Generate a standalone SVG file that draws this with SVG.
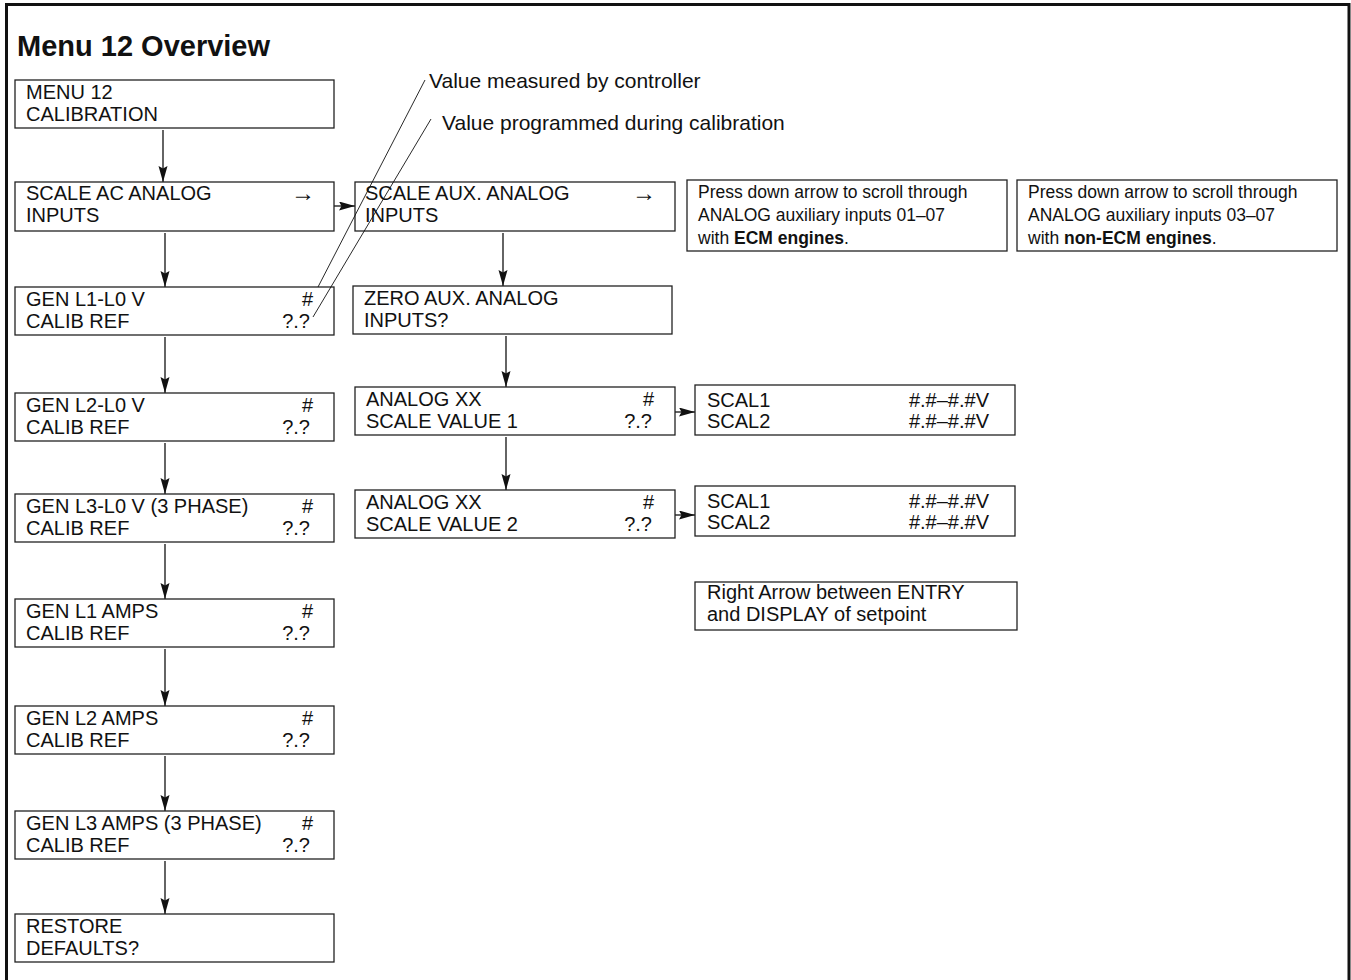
<svg xmlns="http://www.w3.org/2000/svg" width="1351" height="980" viewBox="0 0 1351 980">
<style>
.bx{fill:#fff;stroke:#222;stroke-width:1.3}
.t{font-family:"Liberation Sans",Arial,sans-serif;font-size:20px;fill:#111}
.r{text-anchor:end}
.ar{font-family:"Liberation Sans",Arial,sans-serif;font-size:24px;fill:#111}
.n{font-family:"Liberation Sans",Arial,sans-serif;font-size:17.5px;fill:#111}
.lb{font-family:"Liberation Sans",Arial,sans-serif;font-size:21px;fill:#111}
.ln{stroke:#111;stroke-width:1.3;fill:none}
.ld{stroke:#111;stroke-width:0.9;fill:none}
</style>
<defs>
<marker id="ah" markerUnits="userSpaceOnUse" markerWidth="17" markerHeight="10" refX="16" refY="4.5" orient="auto">
<path d="M0,0 L16,4.5 L0,9 L2.5,4.5 Z" fill="#111"/>
</marker>
</defs>
<rect width="1351" height="980" fill="#fff"/>
<path d="M6.5,980 V4.5 H1349 V980" fill="none" stroke="#111" stroke-width="3"/>
<text x="17" y="56" font-family="Liberation Sans,Arial,sans-serif" font-size="29" font-weight="bold" fill="#111">Menu 12 Overview</text>

<g id="connectors">
<line class="ln" x1="163" y1="130" x2="163" y2="182" marker-end="url(#ah)"/>
<line class="ln" x1="165" y1="233" x2="165" y2="287" marker-end="url(#ah)"/>
<line class="ln" x1="165" y1="337" x2="165" y2="393" marker-end="url(#ah)"/>
<line class="ln" x1="165" y1="443" x2="165" y2="494" marker-end="url(#ah)"/>
<line class="ln" x1="165" y1="544" x2="165" y2="599" marker-end="url(#ah)"/>
<line class="ln" x1="165" y1="649" x2="165" y2="706" marker-end="url(#ah)"/>
<line class="ln" x1="165" y1="756" x2="165" y2="811" marker-end="url(#ah)"/>
<line class="ln" x1="165" y1="861" x2="165" y2="914" marker-end="url(#ah)"/>
<line class="ln" x1="334" y1="206" x2="355" y2="206" marker-end="url(#ah)"/>
<line class="ln" x1="503" y1="233" x2="503" y2="286" marker-end="url(#ah)"/>
<line class="ln" x1="506" y1="336" x2="506" y2="387" marker-end="url(#ah)"/>
<line class="ln" x1="506" y1="437" x2="506" y2="490" marker-end="url(#ah)"/>
<line class="ln" x1="675" y1="412" x2="695" y2="412" marker-end="url(#ah)"/>
<line class="ln" x1="675" y1="515" x2="695" y2="515" marker-end="url(#ah)"/>
</g>

<g id="n-menu12"><rect class="bx" x="15" y="80" width="319" height="48"/>
<text class="t" x="26" y="99">MENU 12</text><text class="t" x="26" y="121">CALIBRATION</text></g>

<g id="n-scaleac"><rect class="bx" x="15" y="182" width="319" height="49"/>
<text class="t" x="26" y="200">SCALE AC ANALOG</text><text class="t" x="26" y="222">INPUTS</text>
<text class="ar" x="291" y="201">→</text></g>

<g id="n-l1l0"><rect class="bx" x="15" y="287" width="319" height="48"/>
<text class="t" x="26" y="306">GEN L1-L0 V</text><text class="t" x="26" y="328">CALIB REF</text>
<text class="t r" x="313" y="306">#</text><text class="t r" x="310" y="328">?.?</text></g>

<g id="n-l2l0"><rect class="bx" x="15" y="393" width="319" height="48"/>
<text class="t" x="26" y="412">GEN L2-L0 V</text><text class="t" x="26" y="434">CALIB REF</text>
<text class="t r" x="313" y="412">#</text><text class="t r" x="310" y="434">?.?</text></g>

<g id="n-l3l0"><rect class="bx" x="15" y="494" width="319" height="48"/>
<text class="t" x="26" y="513">GEN L3-L0 V (3 PHASE)</text><text class="t" x="26" y="535">CALIB REF</text>
<text class="t r" x="313" y="513">#</text><text class="t r" x="310" y="535">?.?</text></g>

<g id="n-l1a"><rect class="bx" x="15" y="599" width="319" height="48"/>
<text class="t" x="26" y="618">GEN L1 AMPS</text><text class="t" x="26" y="640">CALIB REF</text>
<text class="t r" x="313" y="618">#</text><text class="t r" x="310" y="640">?.?</text></g>

<g id="n-l2a"><rect class="bx" x="15" y="706" width="319" height="48"/>
<text class="t" x="26" y="725">GEN L2 AMPS</text><text class="t" x="26" y="747">CALIB REF</text>
<text class="t r" x="313" y="725">#</text><text class="t r" x="310" y="747">?.?</text></g>

<g id="n-l3a"><rect class="bx" x="15" y="811" width="319" height="48"/>
<text class="t" x="26" y="830">GEN L3 AMPS (3 PHASE)</text><text class="t" x="26" y="852">CALIB REF</text>
<text class="t r" x="313" y="830">#</text><text class="t r" x="310" y="852">?.?</text></g>

<g id="n-restore"><rect class="bx" x="15" y="914" width="319" height="48"/>
<text class="t" x="26" y="933">RESTORE</text><text class="t" x="26" y="955">DEFAULTS?</text></g>

<g id="n-scaleaux"><rect class="bx" x="355" y="182" width="320" height="49"/>
<text class="t" x="365" y="200">SCALE AUX. ANALOG</text><text class="t" x="365" y="222">INPUTS</text>
<text class="ar" x="632" y="201">→</text></g>

<g id="n-zero"><rect class="bx" x="353" y="286" width="319" height="48"/>
<text class="t" x="364" y="305">ZERO AUX. ANALOG</text><text class="t" x="364" y="327">INPUTS?</text></g>

<g id="n-analog1"><rect class="bx" x="355" y="387" width="320" height="48"/>
<text class="t" x="366" y="406">ANALOG XX</text><text class="t" x="366" y="428">SCALE VALUE 1</text>
<text class="t r" x="654" y="406">#</text><text class="t r" x="652" y="428">?.?</text></g>

<g id="n-analog2"><rect class="bx" x="355" y="490" width="320" height="48"/>
<text class="t" x="366" y="509">ANALOG XX</text><text class="t" x="366" y="531">SCALE VALUE 2</text>
<text class="t r" x="654" y="509">#</text><text class="t r" x="652" y="531">?.?</text></g>

<g id="n-scal1"><rect class="bx" x="695" y="385" width="320" height="50"/>
<text class="t" x="707" y="407">SCAL1</text><text class="t" x="707" y="428">SCAL2</text>
<text class="t r" x="989" y="407">#.#–#.#V</text><text class="t r" x="989" y="428">#.#–#.#V</text></g>

<g id="n-scal2"><rect class="bx" x="695" y="486" width="320" height="50"/>
<text class="t" x="707" y="508">SCAL1</text><text class="t" x="707" y="529">SCAL2</text>
<text class="t r" x="989" y="508">#.#–#.#V</text><text class="t r" x="989" y="529">#.#–#.#V</text></g>

<g id="n-rightarrow"><rect class="bx" x="695" y="582" width="322" height="48"/>
<text class="t" x="707" y="599">Right Arrow between ENTRY</text><text class="t" x="707" y="621">and DISPLAY of setpoint</text></g>

<g id="n-note-ecm"><rect class="bx" x="687" y="180" width="320" height="71"/>
<text class="n" x="698" y="198">Press down arrow to scroll through</text>
<text class="n" x="698" y="221">ANALOG auxiliary inputs 01–07</text>
<text class="n" x="698" y="244">with <tspan font-weight="bold">ECM engines</tspan>.</text></g>

<g id="n-note-nonecm"><rect class="bx" x="1017" y="180" width="320" height="71"/>
<text class="n" x="1028" y="198">Press down arrow to scroll through</text>
<text class="n" x="1028" y="221">ANALOG auxiliary inputs 03–07</text>
<text class="n" x="1028" y="244">with <tspan font-weight="bold">non-ECM engines</tspan>.</text></g>

<g id="leaders">
<line class="ld" x1="425" y1="80" x2="318" y2="287"/>
<line class="ld" x1="431" y1="119" x2="313" y2="317"/>
<text class="lb" x="429" y="88">Value measured by controller</text>
<text class="lb" x="442" y="130">Value programmed during calibration</text>
</g>
</svg>
